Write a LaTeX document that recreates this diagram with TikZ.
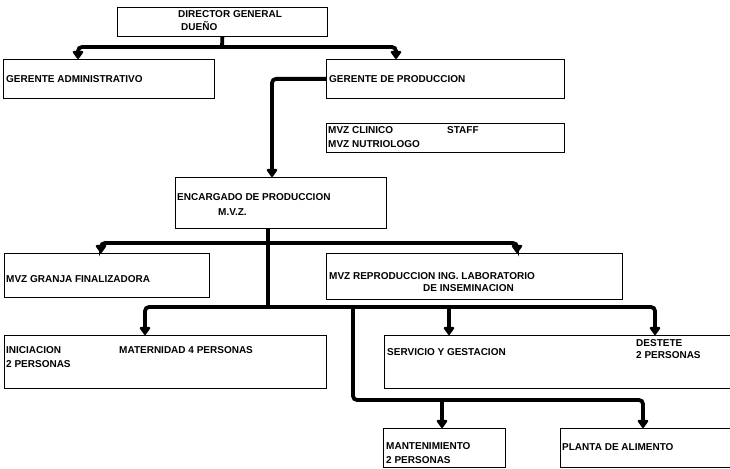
\documentclass[tikz,border=0pt]{standalone}
\usepackage{fontspec}
\setmainfont{Liberation Sans}
\usetikzlibrary{arrows.meta}

\begin{document}
\begin{tikzpicture}[x=1pt,y=1pt,yscale=-1,xscale=1,
    box/.style={draw, line width=0.8pt, anchor=north west, inner sep=0pt},
    txt/.style={anchor=base west, inner sep=0pt, font=\fontsize{10}{12}\selectfont\bfseries},
    conn/.style={line width=3.8pt, rounded corners=4pt},
    arr/.style={conn, -{Triangle[width=12pt,length=9pt,round]}}]
      \useasboundingbox (0,0) rectangle (730,468);
      \fill[white] (0,0) rectangle (730,468);
      % boxes
      \node[box, minimum width=210, minimum height=29] (dir)    at (117,7)   {};
      \node[box, minimum width=211, minimum height=39] (gadm)   at (3,59)    {};
      \node[box, minimum width=238, minimum height=39] (gprod)  at (326,59)  {};
      \node[box, minimum width=238, minimum height=29] (staff)  at (326,123) {};
      \node[box, minimum width=211, minimum height=51] (encp)   at (175,177) {};
      \node[box, minimum width=205, minimum height=44] (granja) at (4,253)   {};
      \node[box, minimum width=296, minimum height=46] (repro)  at (326,253) {};
      \node[box, minimum width=322, minimum height=53] (inic)   at (4,335)   {};
      \node[box, minimum width=356, minimum height=53] (serv)   at (384,335) {};
      \node[box, minimum width=122, minimum height=39] (mant)   at (383,428) {};
      \node[box, minimum width=180, minimum height=39] (planta) at (560,428) {};
      % texts
      \node[txt] (dir-a)    at (178,17.5)  {DIRECTOR GENERAL};
      \node[txt] (dir-b)    at (181,31)    {DUEÑO};
      \node[txt] (gadm-a)   at (6,82.5)    {GERENTE ADMINISTRATIVO};
      \node[txt] (gprod-a)  at (329,82.5)  {GERENTE DE PRODUCCION};
      \node[txt] (staff-a)  at (328,133.5) {MVZ CLINICO};
      \node[txt] (staff-b)  at (447,133.5) {STAFF};
      \node[txt] (staff-c)  at (328,147)   {MVZ NUTRIOLOGO};
      \node[txt] (encp-a)   at (177,200.5) {ENCARGADO DE PRODUCCION};
      \node[txt] (encp-b)   at (218,215)   {M.V.Z.};
      \node[txt] (granja-a) at (6,282.5)   {MVZ GRANJA FINALIZADORA};
      \node[txt] (repro-a)  at (329,279.5) {MVZ REPRODUCCION ING. LABORATORIO};
      \node[txt] (repro-b)  at (423,291.5) {DE INSEMINACION};
      \node[txt] (inic-a)   at (6,353.5)   {INICIACION};
      \node[txt] (inic-b)   at (6,367)     {2 PERSONAS};
      \node[txt] (inic-c)   at (119,353.5) {MATERNIDAD 4 PERSONAS};
      \node[txt] (serv-a)   at (387,355.5) {SERVICIO Y GESTACION};
      \node[txt] (serv-b)   at (636,346.5) {DESTETE};
      \node[txt] (serv-c)   at (636,358.5) {2 PERSONAS};
      \node[txt] (mant-a)   at (386,449)   {MANTENIMIENTO};
      \node[txt] (mant-b)   at (386,463)   {2 PERSONAS};
      \node[txt] (planta-a) at (562,450.5) {PLANTA DE ALIMENTO};
      % junctions and drop points
      \coordinate (j1) at (222,47);
      \coordinate (j2) at (268,243);
      \coordinate (j3) at (268,307);
      \coordinate (j4) at (353,307);
      \coordinate (j5) at (353,400);
      \coordinate (d1) at (78,47);
      \coordinate (d2) at (396,47);
      \coordinate (d3) at (272,78);
      \coordinate (d4) at (101,243);
      \coordinate (d5) at (517,243);
      \coordinate (d6) at (145,307);
      \coordinate (d7) at (449,307);
      \coordinate (d8) at (655,307);
      \coordinate (d9) at (442,400);
      \coordinate (d10) at (643,400);
      % connectors
      \draw[conn] (dir.south) -- (j1);
      \draw[arr] (j1) -| (d1 |- gadm.north);
      \draw[arr] (j1) -| (d2 |- gprod.north);
      \draw[arr] (gprod.west) -| (d3 |- encp.north);
      \draw[conn] (j2 |- encp.south) -- (j3);
      \draw[arr] (j2) -| (d4 |- granja.north);
      \draw[arr] (j2) -| (d5 |- repro.north);
      \draw[arr] (j3) -| (d6 |- inic.north);
      \draw[arr] (j3) -| (d8 |- serv.north);
      \draw[arr] (d7) -- (d7 |- serv.north);
      \draw[arr] (j4) -- (j5) -| (d10 |- planta.north);
      \draw[arr] (d9) -- (d9 |- mant.north);
    \end{tikzpicture}
\end{document}
